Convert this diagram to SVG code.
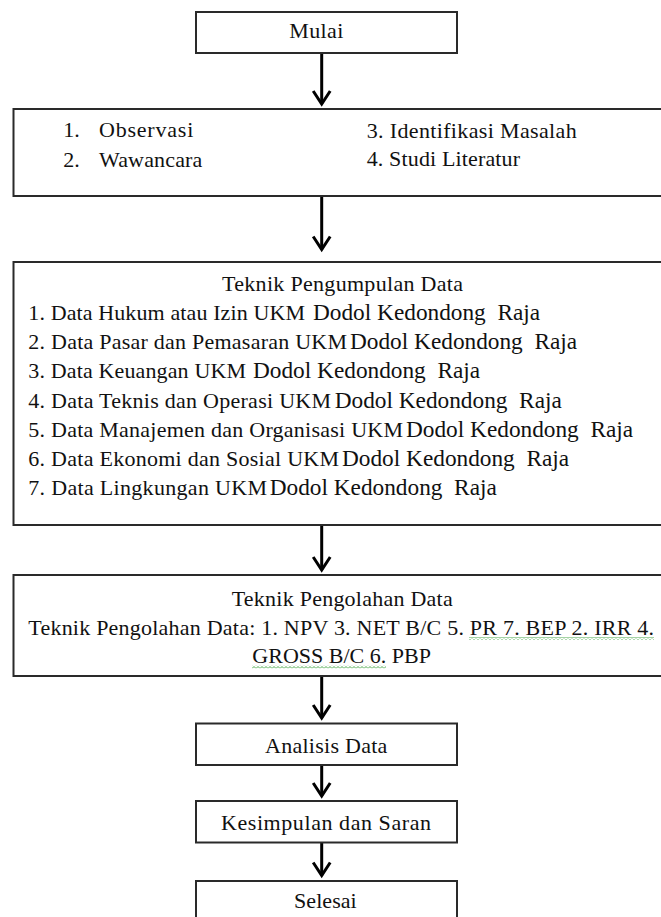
<svg xmlns="http://www.w3.org/2000/svg" width="661" height="917" viewBox="0 0 661 917">
<style>
  .box { fill: #ffffff; stroke: #2a2a2a; stroke-width: 2; }
  .t { font-family: "Liberation Serif", "Times New Roman", serif; font-size: 22px; fill: #111111; }
  .big { font-family: "Liberation Serif", "Times New Roman", serif; font-size: 23.3px; fill: #111111; }
  .conn { stroke: #000000; stroke-width: 3; fill: none; }
  .squig { fill: url(#squig); }
</style>
<defs>
  <marker id="arrow" markerUnits="userSpaceOnUse" markerWidth="30" markerHeight="30" refX="0" refY="0" viewBox="-20 -15 30 30" orient="auto" overflow="visible">
    <path d="M -13 -8.5 L 0 0 L -13 8.5" fill="none" stroke="#000000" stroke-width="3" stroke-linejoin="miter"/>
  </marker>
  <pattern id="squig" patternUnits="userSpaceOnUse" x="0" y="0" width="4" height="3">
    <path d="M 0 2.5 L 2 0.5 L 4 2.5" fill="none" stroke="#4aa84a" stroke-width="1"/>
  </pattern>
</defs>
<rect width="661" height="917" fill="#ffffff"/>

<g id="connectors">
  <line class="conn" x1="321.7" y1="53" x2="321.7" y2="104" marker-end="url(#arrow)"/>
  <line class="conn" x1="321.7" y1="196" x2="321.7" y2="249.5" marker-end="url(#arrow)"/>
  <line class="conn" x1="321.7" y1="525" x2="321.7" y2="570" marker-end="url(#arrow)"/>
  <line class="conn" x1="321.7" y1="676" x2="321.7" y2="718" marker-end="url(#arrow)"/>
  <line class="conn" x1="321.7" y1="765" x2="321.7" y2="796" marker-end="url(#arrow)"/>
  <line class="conn" x1="321.7" y1="842.5" x2="321.7" y2="875.5" marker-end="url(#arrow)"/>
</g>

<g id="mulai">
  <rect class="box" x="196" y="12" width="261" height="41"/>
  <text class="t" x="289.3" y="38.3" textLength="54" lengthAdjust="spacing">Mulai</text>
</g>

<g id="tahap-awal">
  <rect class="box" x="13.5" y="109" width="660" height="87"/>
  <text class="t" x="63.3" y="137.3">1.</text>
  <text class="t" x="99" y="137.3" textLength="94.3" lengthAdjust="spacing">Observasi</text>
  <text class="t" x="63.3" y="166.7">2.</text>
  <text class="t" x="99" y="166.7" textLength="103.3" lengthAdjust="spacing">Wawancara</text>
  <text class="t" x="366.7" y="138" textLength="210" lengthAdjust="spacing">3. Identifikasi Masalah</text>
  <text class="t" x="366.7" y="166.3" textLength="153.3" lengthAdjust="spacing">4. Studi Literatur</text>
</g>

<g id="pengumpulan-data">
  <rect class="box" x="13.5" y="262" width="660" height="263"/>
  <text class="t" x="222" y="291" textLength="241" lengthAdjust="spacing">Teknik Pengumpulan Data</text>
  <text class="t" x="28.3" y="320" textLength="276.7" lengthAdjust="spacing">1. Data Hukum atau Izin UKM</text>
  <text class="big" x="313" y="320" xml:space="preserve">Dodol Kedondong  Raja</text>
  <text class="t" x="28.3" y="349" textLength="318.7" lengthAdjust="spacing">2. Data Pasar dan Pemasaran UKM</text>
  <text class="big" x="350" y="349" xml:space="preserve">Dodol Kedondong  Raja</text>
  <text class="t" x="28.3" y="378" textLength="217.7" lengthAdjust="spacing">3. Data Keuangan UKM</text>
  <text class="big" x="253" y="378" xml:space="preserve">Dodol Kedondong  Raja</text>
  <text class="t" x="28.3" y="407.5" textLength="302.7" lengthAdjust="spacing">4. Data Teknis dan Operasi UKM</text>
  <text class="big" x="334.7" y="407.5" xml:space="preserve">Dodol Kedondong  Raja</text>
  <text class="t" x="28.3" y="436.5" textLength="374.7" lengthAdjust="spacing">5. Data Manajemen dan Organisasi UKM</text>
  <text class="big" x="406" y="436.5" xml:space="preserve">Dodol Kedondong  Raja</text>
  <text class="t" x="28.3" y="465.7" textLength="310.7" lengthAdjust="spacing">6. Data Ekonomi dan Sosial UKM</text>
  <text class="big" x="342" y="465.7" xml:space="preserve">Dodol Kedondong  Raja</text>
  <text class="t" x="28.3" y="495" textLength="238.7" lengthAdjust="spacing">7. Data Lingkungan UKM</text>
  <text class="big" x="269.7" y="495" xml:space="preserve">Dodol Kedondong  Raja</text>
</g>

<g id="pengolahan-data">
  <rect class="box" x="13.5" y="575" width="660" height="101"/>
  <text class="t" x="231.7" y="606" textLength="221" lengthAdjust="spacing">Teknik Pengolahan Data</text>
  <text class="t" x="28.3" y="635" textLength="625.7" lengthAdjust="spacing">Teknik Pengolahan Data: 1. NPV 3. NET B/C 5. PR 7. BEP 2. IRR 4.</text>
  <text class="t" x="252.3" y="663.3" textLength="178.7" lengthAdjust="spacing">GROSS B/C 6. PBP</text>
  <rect class="squig" x="469" y="637" width="185" height="3"/>
  <rect class="squig" x="252" y="665.5" width="134" height="3"/>
</g>

<g id="analisis">
  <rect class="box" x="196" y="723.5" width="261" height="41.5"/>
  <text class="t" x="265" y="753.3" textLength="122.3" lengthAdjust="spacing">Analisis Data</text>
</g>

<g id="kesimpulan">
  <rect class="box" x="196" y="801" width="261" height="41.5"/>
  <text class="t" x="221" y="830" textLength="210" lengthAdjust="spacing">Kesimpulan dan Saran</text>
</g>

<g id="selesai">
  <rect class="box" x="196" y="881" width="261" height="60"/>
  <text class="t" x="294" y="908.3" textLength="62.7" lengthAdjust="spacing">Selesai</text>
</g>
</svg>
